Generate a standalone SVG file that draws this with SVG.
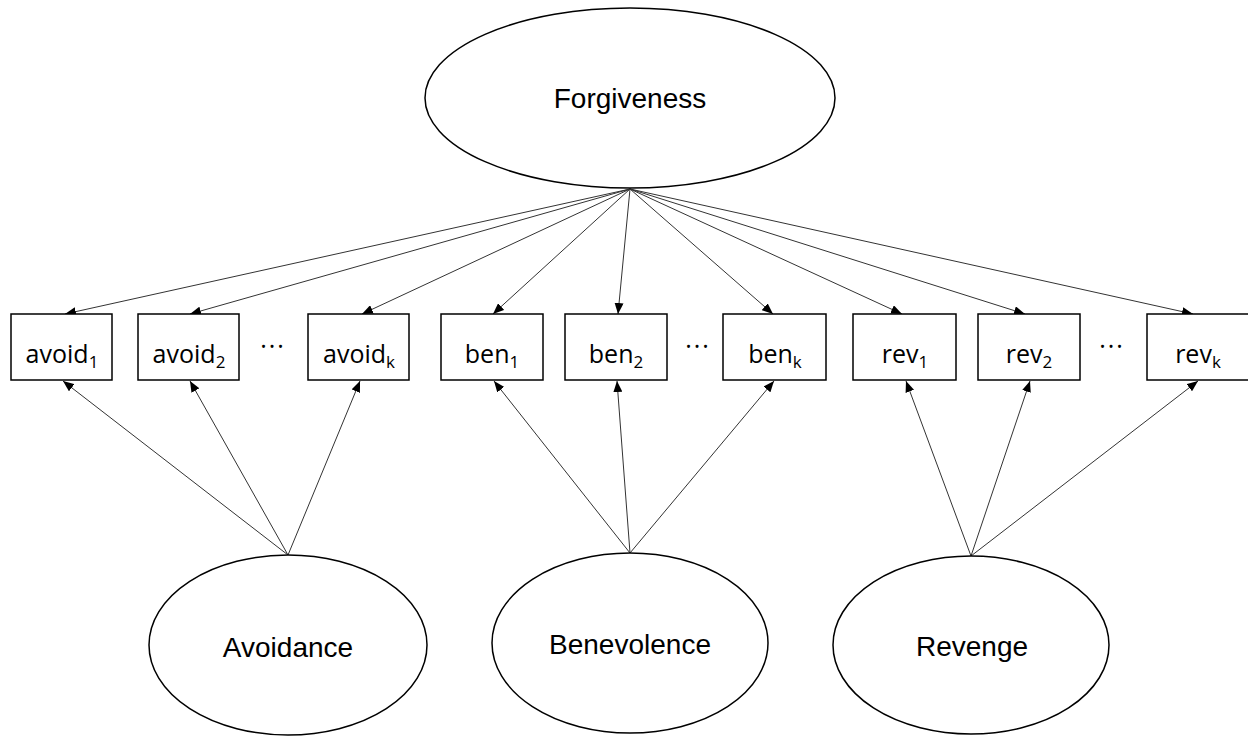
<svg xmlns="http://www.w3.org/2000/svg" width="1248" height="736" viewBox="0 0 1248 736">
<defs>
<marker id="ah" markerUnits="userSpaceOnUse" markerWidth="11" markerHeight="9" refX="11" refY="4.5" orient="auto">
<path d="M0,0 L11,4.5 L0,9 z" fill="#000"/>
</marker>
<style>
.box{fill:#fff;stroke:#000;stroke-width:1.5}
.ell{fill:#fff;stroke:#000;stroke-width:1.5}
.lbl{font-family:"Open Sans","Noto Sans",sans-serif;font-size:25px;fill:#000;text-anchor:middle}
.sub{font-size:17px}
.big{font-family:"Liberation Sans",Arial,sans-serif;font-size:28px;fill:#000;text-anchor:middle}
.dots{font-family:"Open Sans","Noto Sans",sans-serif;font-size:25px;fill:#000;text-anchor:middle;letter-spacing:2px}
.c line{stroke:#333;stroke-width:1;marker-end:url(#ah)}
</style>
</defs>
<rect width="1248" height="736" fill="#fff"/>
<g class="c" id="connectors">
<line x1="630" y1="189" x2="65" y2="314"/>
<line x1="630" y1="189" x2="190" y2="314"/>
<line x1="630" y1="189" x2="362" y2="314"/>
<line x1="630" y1="189" x2="493" y2="314"/>
<line x1="630" y1="189" x2="618" y2="314"/>
<line x1="630" y1="189" x2="773" y2="314"/>
<line x1="630" y1="189" x2="902" y2="314"/>
<line x1="630" y1="189" x2="1025" y2="314"/>
<line x1="630" y1="189" x2="1193" y2="314"/>
<line x1="288" y1="555" x2="63" y2="381"/>
<line x1="288" y1="555" x2="190" y2="381"/>
<line x1="288" y1="555" x2="360" y2="381"/>
<line x1="630" y1="553" x2="494" y2="381"/>
<line x1="630" y1="553" x2="617" y2="381"/>
<line x1="630" y1="553" x2="774" y2="381"/>
<line x1="971" y1="556" x2="906" y2="381"/>
<line x1="971" y1="556" x2="1030" y2="381"/>
<line x1="971" y1="556" x2="1198" y2="381"/>
</g>
<g id="forgiveness"><ellipse class="ell" cx="630" cy="98" rx="205" ry="90"/><text class="big" x="630" y="108">Forgiveness</text></g>
<g id="avoidance"><ellipse class="ell" cx="288" cy="645" rx="139" ry="90"/><text class="big" x="288" y="657">Avoidance</text></g>
<g id="benevolence"><ellipse class="ell" cx="630" cy="643" rx="138" ry="90"/><text class="big" x="630" y="654">Benevolence</text></g>
<g id="revenge"><ellipse class="ell" cx="971" cy="645" rx="138" ry="89"/><text class="big" x="972" y="656">Revenge</text></g>
<g id="avoid1"><rect class="box" x="11" y="314" width="101" height="66"/><text class="lbl" x="62" y="363">avoid<tspan class="sub" dy="5">1</tspan></text></g>
<g id="avoid2"><rect class="box" x="138" y="314" width="101" height="66"/><text class="lbl" x="189" y="363">avoid<tspan class="sub" dy="5">2</tspan></text></g>
<g id="avoidk"><rect class="box" x="308" y="314" width="101" height="66"/><text class="lbl" x="359" y="363">avoid<tspan class="sub" dy="5">k</tspan></text></g>
<g id="ben1"><rect class="box" x="441" y="314" width="102" height="66"/><text class="lbl" x="492" y="363">ben<tspan class="sub" dy="5">1</tspan></text></g>
<g id="ben2"><rect class="box" x="565" y="314" width="102" height="66"/><text class="lbl" x="616" y="363">ben<tspan class="sub" dy="5">2</tspan></text></g>
<g id="benk"><rect class="box" x="723" y="314" width="103" height="66"/><text class="lbl" x="775" y="363">ben<tspan class="sub" dy="5">k</tspan></text></g>
<g id="rev1"><rect class="box" x="853" y="314" width="103" height="66"/><text class="lbl" x="905" y="363">rev<tspan class="sub" dy="5">1</tspan></text></g>
<g id="rev2"><rect class="box" x="978" y="314" width="102" height="66"/><text class="lbl" x="1029" y="363">rev<tspan class="sub" dy="5">2</tspan></text></g>
<g id="revk"><rect class="box" x="1147" y="314" width="102" height="66"/><text class="lbl" x="1198" y="363">rev<tspan class="sub" dy="5">k</tspan></text></g>
<g id="ellipses-dots">
<text class="dots" x="273" y="355">···</text>
<text class="dots" x="698" y="355">···</text>
<text class="dots" x="1112" y="355">···</text>
</g>
</svg>
